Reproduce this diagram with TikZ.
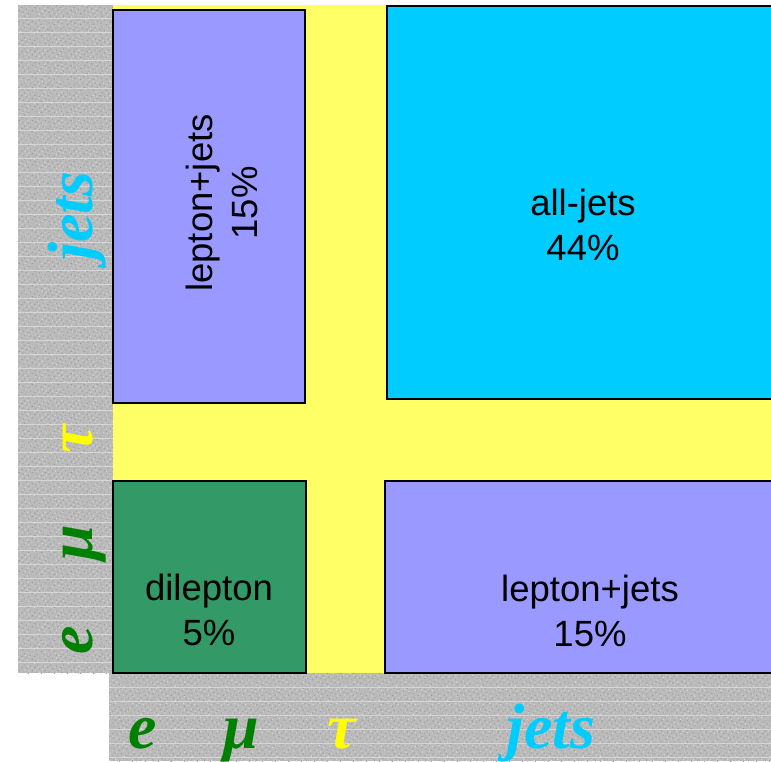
\documentclass[tikz,border=0pt]{standalone}
\usepackage{fontspec}
\setmainfont{Liberation Sans}
\newfontfamily\axisfont{Liberation Serif}
\usetikzlibrary{patterns}
\pgfdeclarepatternformonly{speckleA}{\pgfpointorigin}{\pgfpoint{17pt}{14pt}}{\pgfpoint{17pt}{14pt}}{%
  \pgfpathrectangle{\pgfpoint{0pt}{0pt}}{\pgfpoint{1.2pt}{1.2pt}}%
  \pgfpathrectangle{\pgfpoint{3pt}{2.5pt}}{\pgfpoint{1.2pt}{1.2pt}}%
  \pgfpathrectangle{\pgfpoint{7pt}{1pt}}{\pgfpoint{1.2pt}{1.2pt}}%
  \pgfpathrectangle{\pgfpoint{10pt}{4pt}}{\pgfpoint{1.2pt}{1.2pt}}%
  \pgfpathrectangle{\pgfpoint{14pt}{2pt}}{\pgfpoint{1.2pt}{1.2pt}}%
  \pgfpathrectangle{\pgfpoint{5pt}{5.5pt}}{\pgfpoint{1.2pt}{1.2pt}}%
  \pgfpathrectangle{\pgfpoint{1pt}{7pt}}{\pgfpoint{1.2pt}{1.2pt}}%
  \pgfpathrectangle{\pgfpoint{8pt}{8.5pt}}{\pgfpoint{1.2pt}{1.2pt}}%
  \pgfpathrectangle{\pgfpoint{12pt}{7pt}}{\pgfpoint{1.2pt}{1.2pt}}%
  \pgfpathrectangle{\pgfpoint{15pt}{10pt}}{\pgfpoint{1.2pt}{1.2pt}}%
  \pgfpathrectangle{\pgfpoint{4pt}{11pt}}{\pgfpoint{1.2pt}{1.2pt}}%
  \pgfpathrectangle{\pgfpoint{11pt}{12pt}}{\pgfpoint{1.2pt}{1.2pt}}%
  \pgfusepath{fill}}
\pgfdeclarepatternformonly{speckleB}{\pgfpointorigin}{\pgfpoint{13pt}{11pt}}{\pgfpoint{13pt}{11pt}}{%
  \pgfpathrectangle{\pgfpoint{2pt}{0pt}}{\pgfpoint{1.2pt}{1.2pt}}%
  \pgfpathrectangle{\pgfpoint{6pt}{3pt}}{\pgfpoint{1.2pt}{1.2pt}}%
  \pgfpathrectangle{\pgfpoint{10pt}{1.5pt}}{\pgfpoint{1.2pt}{1.2pt}}%
  \pgfpathrectangle{\pgfpoint{0pt}{5pt}}{\pgfpoint{1.2pt}{1.2pt}}%
  \pgfpathrectangle{\pgfpoint{4pt}{8pt}}{\pgfpoint{1.2pt}{1.2pt}}%
  \pgfpathrectangle{\pgfpoint{9pt}{6.5pt}}{\pgfpoint{1.2pt}{1.2pt}}%
  \pgfpathrectangle{\pgfpoint{11.5pt}{9pt}}{\pgfpoint{1.2pt}{1.2pt}}%
  \pgfusepath{fill}}
\definecolor{lav}{HTML}{9999FF}
\definecolor{cyanbox}{HTML}{00CCFF}
\definecolor{greenbox}{HTML}{339966}
\definecolor{yellowbg}{HTML}{FFFF66}
\definecolor{stripgray}{HTML}{BABABA}
\definecolor{stripdot}{HTML}{D6D6D6}
\definecolor{stripdark}{HTML}{9C9C9C}
\definecolor{labgreen}{HTML}{008000}
\definecolor{labyellow}{HTML}{FFFF00}
\definecolor{labcyan}{HTML}{00CCFF}
\begin{document}
\begin{tikzpicture}[x=1pt,y=-1pt,
  box/.style={draw=black,line width=1.5pt},
  strip/.style={fill=stripgray},
  lightspeck/.style={pattern=speckleA, pattern color=stripdot},
  darkspeck/.style={pattern=speckleB, pattern color=stripdark},
  boxtext/.style={font=\fontsize{36.5}{45}\selectfont, align=center, inner sep=0pt, text=black},
  axlab/.style={font=\axisfont\bfseries\itshape\fontsize{64}{64}\selectfont, inner sep=0pt, anchor=base}]
\useasboundingbox (0,0) rectangle (771,761);
\clip (0,0) rectangle (771,761);
\fill[white] (0,0) rectangle (771,761);
% yellow background
\fill[yellowbg] (113,5) rectangle (771,673);
% grey strips
\fill[strip] (18,5) rectangle (113,673);
\fill[lightspeck] (18,5) rectangle (113,673);
\fill[darkspeck] (18,5) rectangle (113,673);
\fill[strip] (109,673) rectangle (771,761);
\fill[lightspeck] (109,673) rectangle (771,761);
\fill[darkspeck] (109,673) rectangle (771,761);
\foreach \yy in {18,32,...,672} \draw[stripdot, line width=0.5pt] (18,\yy) -- (113,\yy);
\foreach \yy in {687,701,...,760} \draw[stripdot, line width=0.5pt] (109,\yy) -- (771,\yy);
% boxes
\draw[box, fill=lav] (113,10) rectangle (305,403);
\draw[box, fill=cyanbox] (387,6) rectangle (790,399);
\draw[box, fill=greenbox] (113,481) rectangle (306,673);
\draw[box, fill=lav] (385,481) rectangle (790,673);
% box texts
\node[boxtext, rotate=90] (ljtop) at (222,203) {lepton+jets\\15\%};
\node[boxtext] (alljets) at (583,225) {all-jets\\44\%};
\node[boxtext] (dilep) at (209,610) {dilepton\\5\%};
\node[boxtext] (ljbot) at (590,611) {lepton+jets\\15\%};
% left axis labels
\node[axlab, rotate=90, text=labgreen] (le) at (92,640) {e};
\node[axlab, rotate=90, text=labgreen] (lmu) at (92,543) {μ};
\node[axlab, rotate=90, text=labyellow] (ltau) at (92,439) {τ};
\node[axlab, rotate=90, text=labcyan] (ljets) at (92,216) {jets};
% bottom axis labels
\node[axlab, text=labgreen] (be) at (143,748) {e};
\node[axlab, text=labgreen] (bmu) at (241,748) {μ};
\node[axlab, text=labyellow] (btau) at (342,748) {τ};
\node[axlab, text=labcyan] (bjets) at (551,748) {jets};
\end{tikzpicture}
\end{document}
